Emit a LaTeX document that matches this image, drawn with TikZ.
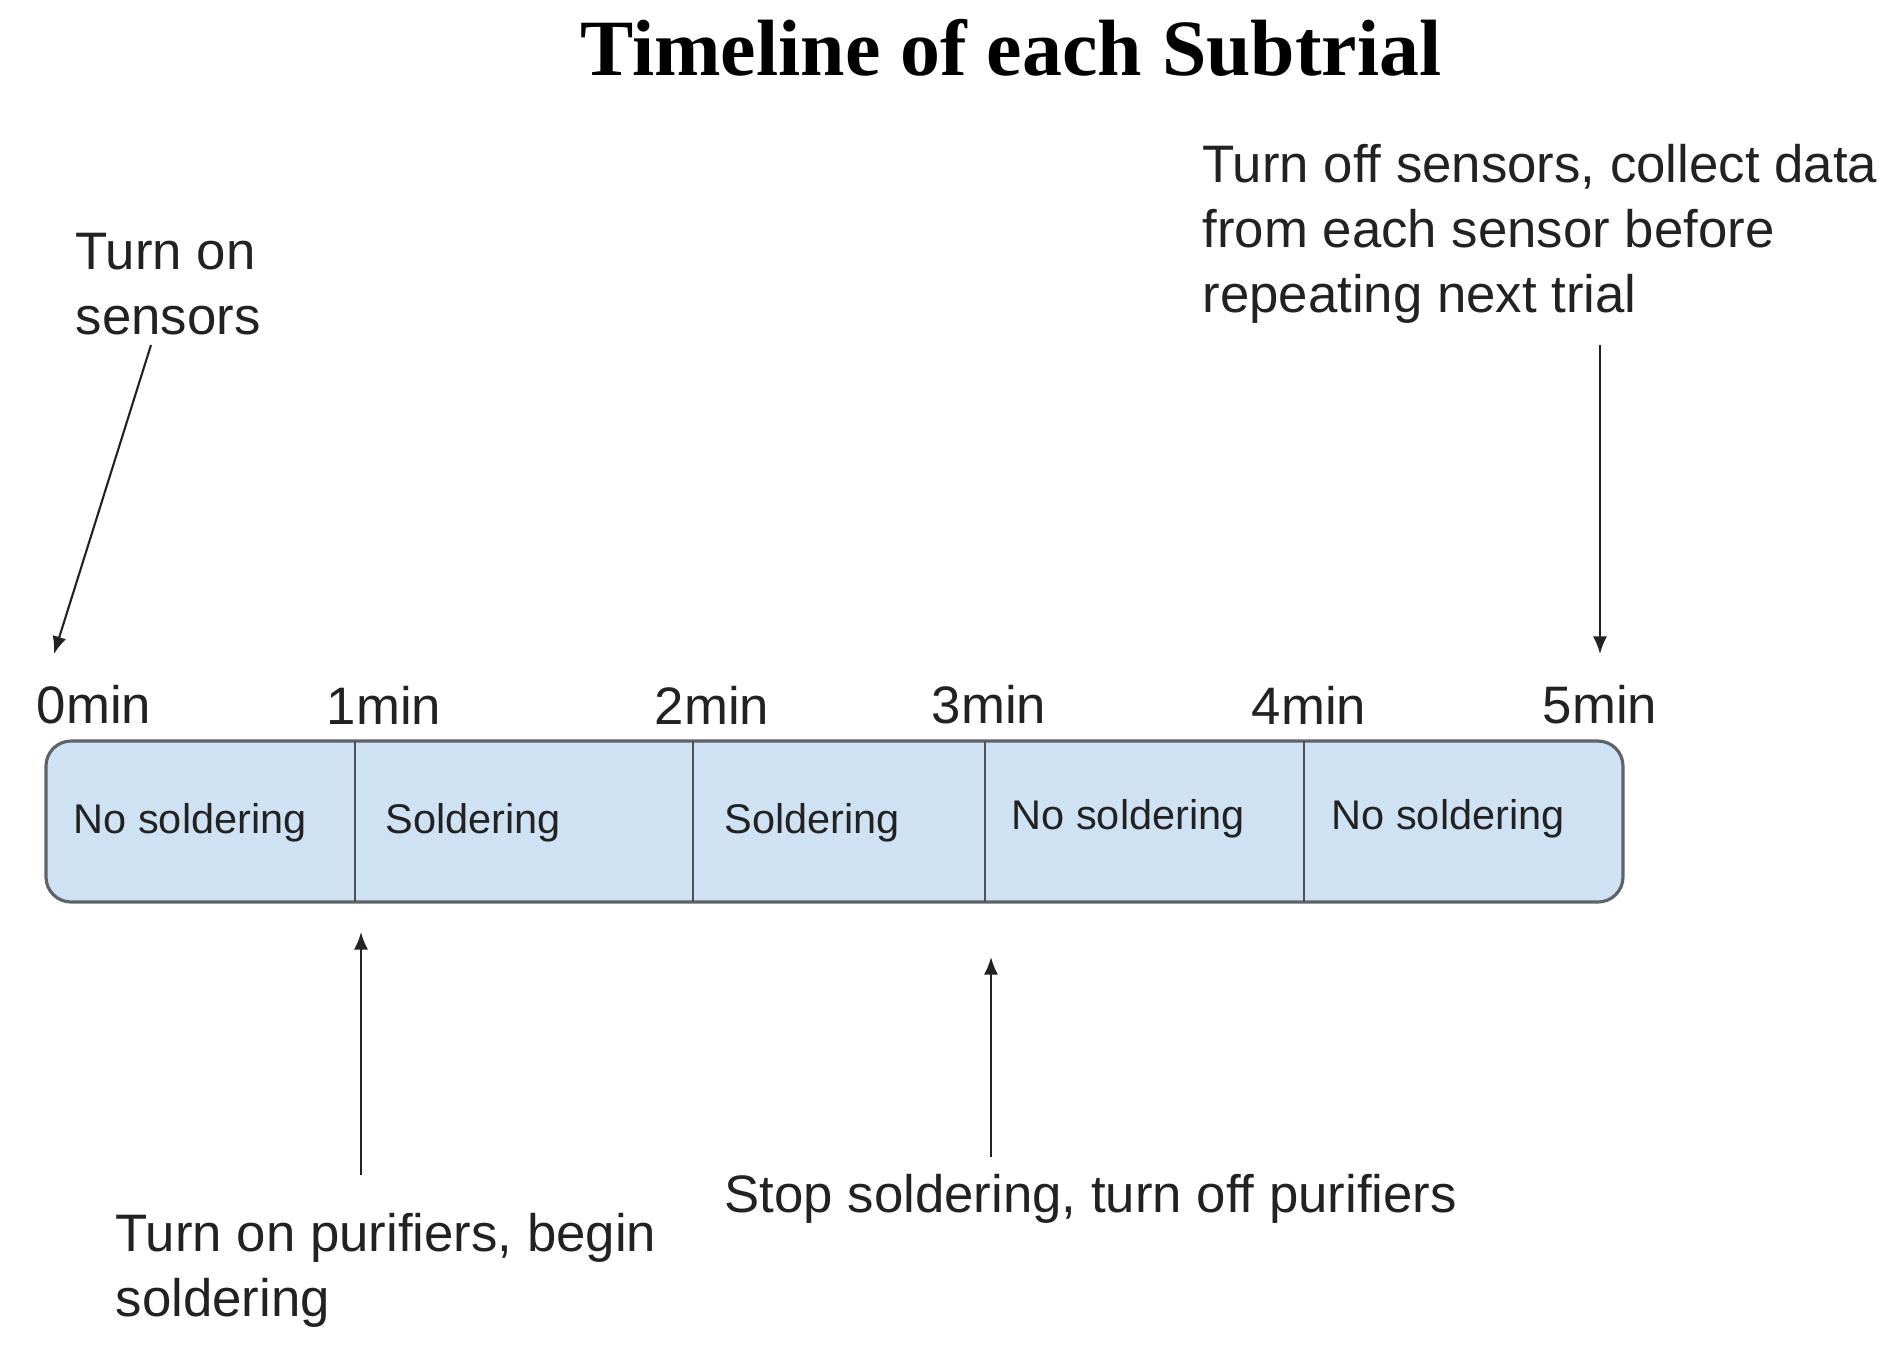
\documentclass[tikz,border=0pt]{standalone}
\usepackage{fontspec}
\setmainfont{Liberation Sans}
\newfontfamily\titlefont{Liberation Serif}
\usetikzlibrary{arrows.meta}

\definecolor{barfill}{HTML}{CFE2F3}
\definecolor{barline}{HTML}{5F6368}
\definecolor{inkgray}{HTML}{222222}

\tikzset{
  note/.style={anchor=west, inner sep=0, align=left, text=inkgray,
    font={\fontsize{15}{18.5}\selectfont}},
  tick/.style={inner sep=0, text=inkgray, font={\fontsize{15}{18}\selectfont}},
  phase/.style={anchor=west, inner sep=0, text=inkgray, font={\fontsize{11.8}{14}\selectfont}},
  pointer/.style={draw=inkgray, line width=0.6pt, -{Latex[length=5pt,width=4pt]}},
}

\begin{document}
\begin{tikzpicture}[x=0.01cm, y=-0.01cm]
  \useasboundingbox (0,0) rectangle (1899,1353);

  % Parameters definitions
  \def\barl{46}   % Left end of the bar
  \def\barr{1623} % Right end of the bar
  \def\bart{741}  % Top of the bar
  \def\barb{902}  % Bottom of the bar
  \def\barm{823}  % Middle line of the bar texts
  \def\ticky{705} % Height of the minute labels

  % Title
  \node[inner sep=0, font={\titlefont\bfseries\fontsize{22.7}{26}\selectfont}] (title) at (1011, 48) {Timeline of each Subtrial};

  % Bar
  \draw[fill=barfill, draw=barline, line width=0.9pt, rounded corners=0.25cm] (\barl, \bart) rectangle (\barr, \barb);
  \foreach \xdiv in {355, 693, 985, 1304} {
    \draw[draw=barline!80!black, line width=0.7pt] (\xdiv, \bart) -- (\xdiv, \barb);
  }

  % Phases
  \node[phase] (phasea) at (73, \barm) {No soldering};
  \node[phase] (phaseb) at (385, \barm) {Soldering};
  \node[phase] (phasec) at (724, \barm) {Soldering};
  \node[phase] (phased) at (1011, \barm-4) {No soldering};
  \node[phase] (phasee) at (1331, \barm-4) {No soldering};

  % Minute labels
  \node[tick] (mina) at (94, \ticky) {0min};
  \node[tick] (minb) at (384, \ticky) {1min};
  \node[tick] (minc) at (712, \ticky) {2min};
  \node[tick] (mind) at (989, \ticky) {3min};
  \node[tick] (mine) at (1309, \ticky) {4min};
  \node[tick] (minf) at (1600, \ticky) {5min};

  % Notes
  \node[note] (sensorson) at (75, 284) {Turn on\\sensors};
  \node[note] (sensorsoff) at (1202, 234) {Turn off sensors, collect data\\from each sensor before\\repeating next trial};
  \node[note] (purifierson) at (115, 1270) {Turn on purifiers, begin\\soldering};
  \node[note] (purifiersoff) at (724, 1199) {Stop soldering, turn off purifiers};

  % Arrow ends
  \coordinate (onfrom) at (151, 345);
  \coordinate (onto) at (54, 654);
  \coordinate (offfrom) at (1600, 345);
  \coordinate (offto) at (1600, 654);
  \coordinate (purfrom) at (361, 1175);
  \coordinate (purto) at (361, 932);
  \coordinate (stopfrom) at (991, 1157);
  \coordinate (stopto) at (991, 957);

  \draw[pointer] (onfrom) -- (onto);
  \draw[pointer] (offfrom) -- (offto);
  \draw[pointer] (purfrom) -- (purto);
  \draw[pointer] (stopfrom) -- (stopto);
\end{tikzpicture}
\end{document}
